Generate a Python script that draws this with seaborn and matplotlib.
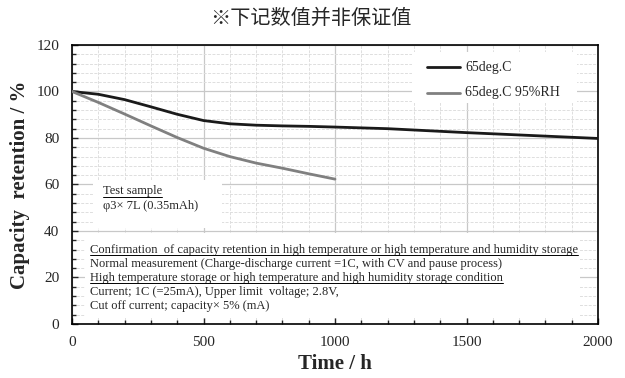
import numpy as np
import pandas as pd
import seaborn as sns
import matplotlib.pyplot as plt
from matplotlib.ticker import MultipleLocator

# data
hours_dry = [0, 100, 200, 300, 400, 500, 600, 700, 800, 900, 1000, 1200, 1500, 1800, 2000]
retention_dry = [100, 98.8, 96.5, 93.4, 90.2, 87.5, 86.1, 85.5, 85.2, 85.0, 84.7, 84.0, 82.3, 80.8, 79.8]
hours_wet = [0, 100, 200, 300, 400, 500, 600, 700, 800, 900, 1000]
retention_wet = [100, 95.3, 90.3, 85.2, 80.2, 75.6, 72.0, 69.2, 67.0, 64.6, 62.3]
labels = ['65deg.C', '65deg.C 95%RH']
colors = ['#1a1a1a', '#808080']

df = pd.concat([
    pd.DataFrame({'Time': hours_dry, 'Retention': retention_dry, 'cond': labels[0]}),
    pd.DataFrame({'Time': hours_wet, 'Retention': retention_wet, 'cond': labels[1]}),
])

sns.set_style('white')
plt.rcParams['font.family'] = ['Liberation Serif', 'DejaVu Serif']

fig = plt.figure(figsize=(6.25, 3.78), dpi=100)
ax = fig.add_axes([0.1152, 0.1429, 0.8416, 0.7381])

sns.lineplot(data=df, x='Time', y='Retention', hue='cond',
             palette=dict(zip(labels, colors)),
             linewidth=2.0, ax=ax, legend=False, zorder=3)

ax.set_xlim(0, 2000)
ax.set_ylim(0, 120)
ax.xaxis.set_major_locator(MultipleLocator(500))
ax.xaxis.set_minor_locator(MultipleLocator(100))
ax.yaxis.set_major_locator(MultipleLocator(20))
ax.yaxis.set_minor_locator(MultipleLocator(4))
ax.grid(which='major', color='#c8c8c8', lw=0.9, ls='-', zorder=0)
ax.grid(which='minor', color='#dedede', lw=0.7, ls=(0, (3, 1.5)), zorder=0)
ax.tick_params(which='both', direction='in', left=True, bottom=True, labelsize=11)
ax.tick_params(axis='y', pad=9)
ax.tick_params(axis='x', pad=9)
ax.tick_params(which='major', length=4, width=1)
ax.tick_params(which='minor', length=3, width=1)
for s in ax.spines.values():
    s.set_color('black')
    s.set_linewidth(1.2)

ax.set_xlabel('Time / h', fontsize=15, fontweight='bold', labelpad=3)
ax.set_ylabel('Capacity  retention / %', fontsize=15, fontweight='bold', labelpad=5)
fig.text(0.498, 0.952, '※下记数值并非保证值', ha='center', va='center', fontsize=14.5,
         family=['Noto Sans CJK SC', 'DejaVu Sans'], fontweight='medium')

# legend box
ax.add_patch(plt.Rectangle((0.646, 0.792), 0.314, 0.183, transform=ax.transAxes,
                           facecolor='white', edgecolor='none', zorder=4))
for i, (lab, col) in enumerate(zip(labels, colors)):
    yy = 0.921 - i * 0.093
    ax.plot([0.675, 0.738], [yy, yy], transform=ax.transAxes, color=col, lw=2.0, zorder=5)
    ax.text(0.747, yy, lab, transform=ax.transAxes, fontsize=10, va='center', zorder=5)

box_props = dict(transform=ax.transAxes, fontsize=9, va='baseline', ha='left', zorder=5)

# test sample box
ax.add_patch(plt.Rectangle((0.04, 0.344), 0.245, 0.172, transform=ax.transAxes,
                           facecolor='white', edgecolor='none', zorder=4))
sample_lines = [('Test sample', True), ('φ3× 7L (0.35mAh)', False)]

# condition box
ax.add_patch(plt.Rectangle((0.025, 0.02), 0.941, 0.306, transform=ax.transAxes,
                           facecolor='white', edgecolor='none', zorder=4))
cond_lines = [
    ('Confirmation  of capacity retention in high temperature or high temperature and humidity storage', True),
    ('Normal measurement (Charge-discharge current =1C, with CV and pause process)', False),
    ('High temperature storage or high temperature and high humidity storage condition', True),
    ('Current; 1C (=25mA), Upper limit  voltage; 2.8V,', False),
    ('Cut off current; capacity× 5% (mA)', False),
]

texts = []
for i, (t, u) in enumerate(sample_lines):
    texts.append((ax.text(0.059, 0.465 - i * 0.053, t, **box_props), u))
for i, (t, u) in enumerate(cond_lines):
    texts.append((ax.text(0.034, 0.256 - i * 0.0505, t, **box_props), u))

# underline some lines
fig.canvas.draw()
renderer = fig.canvas.get_renderer()
inv = ax.transAxes.inverted()
for t, u in texts:
    if not u:
        continue
    bb = t.get_window_extent(renderer)
    x0, _ = inv.transform((bb.x0, bb.y0))
    x1, _ = inv.transform((bb.x1, bb.y1))
    yl = t.get_position()[1] - 0.009
    ax.plot([x0, x1], [yl, yl], transform=ax.transAxes, color='black', lw=0.7, zorder=6)

fig.savefig('out.png', dpi=100)
